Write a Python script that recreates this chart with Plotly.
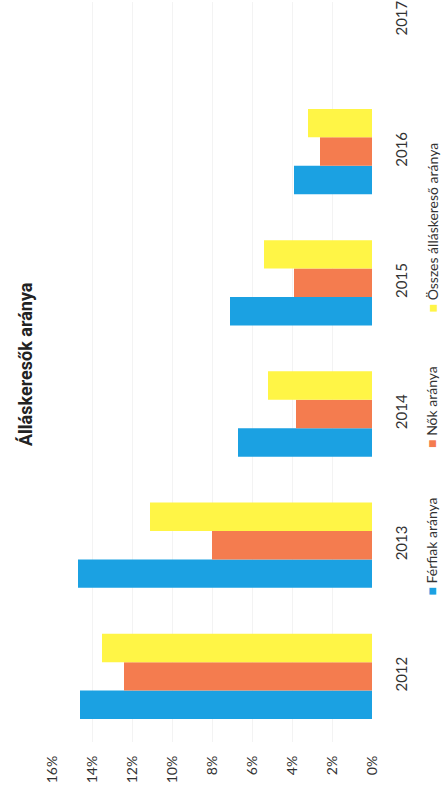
import plotly.graph_objects as go

years = ["2012", "2013", "2014", "2015", "2016", "2017"]
ferfiak = [14.6, 14.7, 6.7, 7.1, 3.9, None]
nok = [12.4, 8.0, 3.8, 3.9, 2.6, None]
osszes = [13.5, 11.1, 5.2, 5.4, 3.2, None]
series_names = ["Férfiak aránya", "Nők aránya", "Összes álláskereső aránya"]
colors = ["#1BA1E2", "#F47C4F", "#FFF546"]
x_ticks = [0, 2, 4, 6, 8, 10, 12, 14, 16]
x_ticklabels = [f"{v}%" for v in x_ticks]
title_text = "Álláskeresők aránya"

fig = go.Figure()
for name, vals, col in zip(series_names, [ferfiak, nok, osszes], colors):
    fig.add_trace(go.Bar(y=years, x=vals, name=name, orientation="h",
                         marker=dict(color=col, line=dict(width=0)), showlegend=False))

W, H = 448, 795
ml, mr, mt, mb = 52, 76, 0, 53
pw, ph = W - ml - mr, H - mt - mb

def px_x(p):
    return (p - ml) / pw

def px_y(p):
    return (H - mb - p) / ph

fig.update_layout(
    width=W, height=H,
    margin=dict(l=ml, r=mr, t=mt, b=mb, pad=0),
    paper_bgcolor="white", plot_bgcolor="white",
    barmode="group", bargap=0.35, bargroupgap=0,
    font=dict(family="Lato", color="#333333"),
    xaxis=dict(range=[16, 0], tickvals=x_ticks, ticktext=x_ticklabels,
               tickangle=-90, tickfont=dict(size=14, color="#333333"),
               showgrid=True, gridcolor="#f3f3f3", gridwidth=1,
               zeroline=False, showline=False, ticks="", ticklabelstandoff=10),
    yaxis=dict(type="category", categoryorder="array", categoryarray=years,
               range=[-0.5, 5.14], side="right", tickangle=-90,
               tickfont=dict(size=15, color="#333333"),
               showgrid=False, zeroline=False, showline=False, ticks="",
               ticklabelstandoff=19),
)

fig.add_annotation(text=f"<b>{title_text}</b>", textangle=-90,
                   xref="paper", yref="paper", x=px_x(25), y=px_y(363),
                   showarrow=False, font=dict(family="Roboto", size=18, color="#222222"),
                   xanchor="center", yanchor="middle")

legend_centers = [546, 406, 226]
for name, col, yc in zip(series_names, colors, legend_centers):
    fig.add_annotation(text=f"<span style='color:{col}'>■</span> {name}", textangle=-90,
                       xref="paper", yref="paper", x=px_x(432), y=px_y(yc),
                       showarrow=False, font=dict(family="Lato", size=14, color="#333333"),
                       xanchor="center", yanchor="middle")

fig.write_html("out.html", config={"displayModeBar": False},
               post_script="document.body.style.margin='0';document.body.style.overflow='hidden';")
